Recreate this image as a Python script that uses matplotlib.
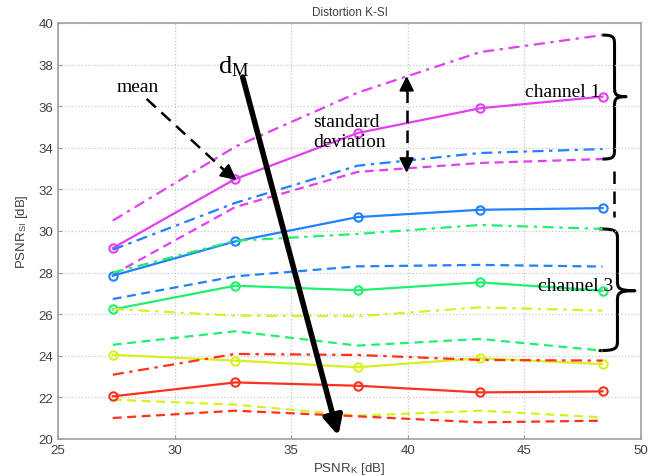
import matplotlib
matplotlib.use("Agg")
import matplotlib.pyplot as plt
from matplotlib.path import Path
from matplotlib.patches import PathPatch

plt.rcParams['mathtext.fontset'] = 'stix'

# ---------------- data ----------------
psnr_k = [27.35, 32.6, 37.85, 43.1, 48.35]

magenta_mean = [29.18, 32.5, 34.71, 35.9, 36.46]
magenta_upper = [30.5, 34.05, 36.65, 38.6, 39.42]
magenta_lower = [27.9, 31.15, 32.84, 33.27, 33.46]

blue_mean = [27.85, 29.5, 30.67, 31.02, 31.1]
blue_upper = [29.1, 31.35, 33.14, 33.75, 33.94]
blue_lower = [26.73, 27.82, 28.3, 28.37, 28.29]

green_mean = [26.23, 27.37, 27.15, 27.53, 27.13]
green_upper = [28.0, 29.53, 29.86, 30.29, 30.1]
green_lower = [24.53, 25.18, 24.49, 24.81, 24.25]

yellow_mean = [24.05, 23.77, 23.45, 23.88, 23.6]
yellow_upper = [26.25, 25.93, 25.9, 26.33, 26.17]
yellow_lower = [21.89, 21.65, 21.12, 21.36, 21.04]

red_mean = [22.05, 22.72, 22.56, 22.24, 22.29]
red_upper = [23.09, 24.09, 24.04, 23.8, 23.77]
red_lower = [21.01, 21.36, 21.09, 20.8, 20.88]

x_ticks = [25, 30, 35, 40, 45, 50]
y_ticks = [20, 22, 24, 26, 28, 30, 32, 34, 36, 38, 40]

series = [
    ('#E040F0', magenta_mean, magenta_upper, magenta_lower),
    ('#2080FF', blue_mean, blue_upper, blue_lower),
    ('#20F070', green_mean, green_upper, green_lower),
    ('#D8F020', yellow_mean, yellow_upper, yellow_lower),
    ('#FF3020', red_mean, red_upper, red_lower),
]

# ---------------- figure ----------------
fig = plt.figure(figsize=(6.72, 4.77), dpi=100)
ax = fig.add_axes([58/672, 1-440/477, (641-58)/672, (440-24)/477])

for color, mean, up, lo in series:
    ax.plot(psnr_k, up, color=color, lw=1.6, dashes=(5, 2.5, 1.5, 2.5))
    ax.plot(psnr_k, lo, color=color, lw=1.6, dashes=(4, 2.5))
    ax.plot(psnr_k, mean, color=color, lw=1.6, marker='o', ms=6,
            mfc='none', mec=color, mew=1.5)

ax.set_xlim(25, 50)
ax.set_ylim(20, 40)
ax.set_xticks(x_ticks)
ax.set_yticks(y_ticks)
ax.grid(True, linestyle=':', color='#c8c8c8', lw=0.9)
ax.tick_params(direction='in', length=3, color='#999999', labelcolor='#404040',
               labelsize=9.5)
for lab in ax.get_xticklabels() + ax.get_yticklabels():
    lab.set_family('Liberation Sans')
for s in ax.spines.values():
    s.set_color('#a0a0a0')
    s.set_linewidth(1.2)

ax.set_xlabel(r'PSNR$_\mathregular{K}$ [dB]', fontsize=9.5, color='#404040',
              family='Liberation Sans', labelpad=3)
ax.set_ylabel(r'PSNR$_\mathregular{SI}$ [dB]', fontsize=9.5, color='#404040',
              family='Liberation Sans', labelpad=6)
ax.set_title('Distortion K-SI', fontsize=8.5, color='#404040',
             family='Liberation Sans', pad=6)

serif = 'Liberation Serif'

# d_M arrow
ax.annotate('', xy=(37.02, 20.16), xytext=(32.92, 37.40),
            arrowprops=dict(arrowstyle='-|>', lw=4, color='k',
                            mutation_scale=28, shrinkA=0, shrinkB=0),
            annotation_clip=False)
ax.text(31.85, 37.95, r'd$_\mathregular{M}$', fontsize=19, family=serif,
        ha='left', va='center')

# mean
ax.text(28.4, 36.97, 'mean', fontsize=14, family=serif, ha='center', va='center')
ax.plot([28.8, 32.3], [36.35, 32.75], color='k', lw=1.8, dashes=(5, 3))
ax.annotate('', xy=(32.66, 32.45), xytext=(32.1, 32.95),
            arrowprops=dict(arrowstyle='-|>', lw=1.5, color='k',
                            mutation_scale=24, shrinkA=0, shrinkB=0))

# standard deviation
ax.text(35.95, 34.78, 'standard\ndeviation', fontsize=14, family=serif,
        ha='left', va='center', linespacing=1.2)
ax.plot([39.95, 39.95], [36.8, 33.4], color='k', lw=1.8, dashes=(5, 3))
ax.annotate('', xy=(39.95, 37.45), xytext=(39.95, 36.7),
            arrowprops=dict(arrowstyle='-|>', lw=1.5, color='k',
                            mutation_scale=22, shrinkA=0, shrinkB=0))
ax.annotate('', xy=(39.95, 32.8), xytext=(39.95, 33.55),
            arrowprops=dict(arrowstyle='-|>', lw=1.5, color='k',
                            mutation_scale=22, shrinkA=0, shrinkB=0))

# channel labels
ax.text(48.24, 36.72, 'channel 1', fontsize=14, family=serif, ha='right', va='center')
ax.text(48.8, 27.36, 'channel 3', fontsize=14, family=serif, ha='right', va='center')


def brace(x0, x1, ytop, ybot, ymid):
    xm = (x0 + x1) / 2
    r = 0.5
    verts = [
        (x0, ytop), (xm, ytop), (xm, ytop - r * 0.3), (xm, ytop - r),
        (xm, ymid + r),
        (xm, ymid + r * 0.3), (xm, ymid), (x1, ymid),
        (xm, ymid), (xm, ymid - r * 0.3), (xm, ymid - r),
        (xm, ybot + r),
        (xm, ybot + r * 0.3), (xm, ybot), (x0, ybot),
    ]
    codes = [Path.MOVETO, Path.CURVE4, Path.CURVE4, Path.CURVE4,
             Path.LINETO,
             Path.CURVE4, Path.CURVE4, Path.CURVE4,
             Path.CURVE4, Path.CURVE4, Path.CURVE4,
             Path.LINETO,
             Path.CURVE4, Path.CURVE4, Path.CURVE4]
    p = PathPatch(Path(verts, codes), fill=False, lw=2.2, color='k',
                  clip_on=False, capstyle='round', joinstyle='round')
    ax.add_patch(p)


brace(48.37, 49.36, magenta_upper[-1], magenta_lower[-1], magenta_mean[-1])
brace(48.24, 49.74, green_upper[-1], green_lower[-1], green_mean[-1])

# dashed separator
ax.plot([48.84, 48.84], [32.88, 30.67], color='k', lw=1.8, dashes=(5, 3))

fig.savefig('out.png', dpi=100)
